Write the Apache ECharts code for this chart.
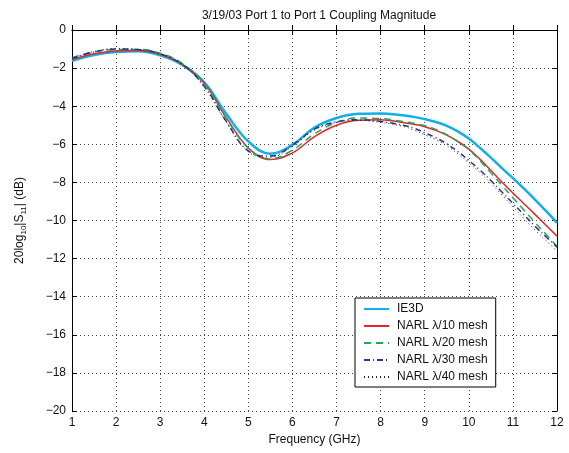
<!DOCTYPE html>
<html>
<head>
<meta charset="utf-8">
<script src="https://cdn.jsdelivr.net/npm/echarts@6/dist/echarts.min.js"></script>
<style>
  html, body { margin: 0; padding: 0; background: #fff; }
  #chart { width: 569px; height: 453px; }
</style>
</head>
<body>
<div id="chart"></div>
<script>
var freq = [1, 1.5, 2, 2.5, 3, 3.5, 4, 4.5, 5, 5.5, 6, 6.5, 7, 7.5, 8, 8.5, 8.75, 9, 9.25, 9.5, 9.75, 10, 10.25, 10.5, 10.75, 11, 11.25, 11.5, 11.75, 12];
var ie3d   = [-1.62, -1.31, -1.15, -1.12, -1.33, -1.83, -2.75, -4.4, -5.85, -6.49, -6.02, -5.12, -4.62, -4.4, -4.38,
              -4.48, -4.56, -4.68, -4.83, -5.03, -5.32, -5.7, -6.18, -6.7, -7.25, -7.78, -8.33, -8.9, -9.5, -10.12];
var narl10 = [-1.55, -1.25, -1.1, -1.08, -1.28, -1.8, -2.8, -4.6, -6.19, -6.8, -6.45, -5.6, -5.0, -4.74, -4.71,
              -4.85, -4.95, -5.08, -5.27, -5.52, -5.85, -6.25, -6.78, -7.38, -7.98, -8.56, -9.12, -9.68, -10.25, -10.82];
var narl20 = [-1.45, -1.15, -1.03, -1.02, -1.22, -1.75, -2.82, -4.65, -6.2, -6.77, -6.3, -5.45, -4.85, -4.62, -4.65,
              -4.8, -4.9, -5.02, -5.22, -5.5, -5.85, -6.28, -6.85, -7.5, -8.15, -8.8, -9.45, -10.1, -10.72, -11.35];
var narl30 = [-1.5, -1.15, -1.0, -1.03, -1.25, -1.8, -2.95, -4.8, -6.35, -6.62, -6.05, -5.2, -4.82, -4.71, -4.8,
              -5.0, -5.15, -5.4, -5.65, -5.98, -6.38, -6.85, -7.35, -7.9, -8.5, -9.1, -9.7, -10.3, -10.85, -11.4];
var narl40 = [-1.48, -1.13, -0.98, -1.02, -1.25, -1.82, -3.0, -4.85, -6.4, -6.68, -6.1, -5.25, -4.85, -4.75, -4.85,
              -5.05, -5.25, -5.5, -5.75, -6.08, -6.5, -6.97, -7.48, -8.05, -8.65, -9.28, -9.9, -10.5, -11.05, -11.6];
var seriesNames = ['IE3D', 'NARL \u03bb/10 mesh', 'NARL \u03bb/20 mesh', 'NARL \u03bb/30 mesh', 'NARL \u03bb/40 mesh'];

function pairs(ys) { return freq.map(function (x, i) { return [x, ys[i]]; }); }

var font = 'Liberation Sans, Arial, Helvetica, sans-serif';
var chart = echarts.init(document.getElementById('chart'), null, { renderer: 'canvas' });

function mkSeries(name, ys, color, width, type) {
  return {
    name: name, type: 'line', data: pairs(ys), smooth: 0.4,
    symbol: 'none', showSymbol: false,
    lineStyle: { color: color, width: width, type: type },
    itemStyle: { color: color },
    emphasis: { disabled: true }
  };
}

var option = {
  animation: false,
  backgroundColor: '#fff',
  textStyle: { fontFamily: font },
  title: {
    text: '3/19/03 Port 1 to Port 1 Coupling Magnitude',
    left: 314, top: 5, textAlign: 'center',
    textStyle: { fontSize: 12, fontWeight: 'normal', color: '#111', fontFamily: font }
  },
  grid: { left: 72, top: 30, width: 485, height: 381, containLabel: false },
  legend: {
    data: seriesNames,
    orient: 'vertical',
    left: 355, top: 298,
    itemWidth: 25, itemHeight: 14, itemGap: 5,
    padding: [5, 8, 4, 8],
    borderColor: '#000', borderWidth: 1, backgroundColor: '#fff',
    itemStyle: { opacity: 0 },
    textStyle: { fontSize: 12, color: '#111', fontFamily: font, padding: [0, 0, 0, 3] }
  },
  xAxis: [{
    type: 'value', min: 1, max: 12, interval: 1,
    name: 'Frequency (GHz)', nameLocation: 'middle', nameGap: 23,
    nameTextStyle: { fontSize: 12, color: '#111', fontFamily: font },
    axisLine: { show: true, lineStyle: { color: '#000', width: 1 } },
    axisTick: { show: true, inside: true, length: 5, lineStyle: { color: '#000' } },
    axisLabel: { fontSize: 12, color: '#111', margin: 6, fontFamily: font },
    splitLine: { show: true, lineStyle: { color: '#444', width: 1, type: [1, 3] } }
  }, {
    type: 'value', min: 1, max: 12, interval: 1, position: 'top',
    axisLine: { show: true, lineStyle: { color: '#000', width: 1 } },
    axisTick: { show: true, inside: true, length: 5, lineStyle: { color: '#000' } },
    axisLabel: { show: false }, splitLine: { show: false }
  }],
  yAxis: [{
    type: 'value', min: -20, max: 0, interval: 2,
    name: '{a|20log}{s|10}{a||S}{s|11}{a|| (dB)}',
    nameLocation: 'middle', nameGap: 46, nameRotate: 90,
    nameTextStyle: {
      fontSize: 12, color: '#111', fontFamily: font,
      rich: {
        a: { fontSize: 12, lineHeight: 12, verticalAlign: 'top', color: '#111', fontFamily: font },
        s: { fontSize: 8, lineHeight: 8, padding: [6, 0, 0, 0], verticalAlign: 'top', color: '#111', fontFamily: font }
      }
    },
    axisLine: { show: true, lineStyle: { color: '#000', width: 1 } },
    axisTick: { show: true, inside: true, length: 5, lineStyle: { color: '#000' } },
    axisLabel: {
      fontSize: 12, color: '#111', margin: 6, fontFamily: font,
      formatter: function (v) { return String(v).replace('-', '\u2212'); }
    },
    splitLine: { show: true, lineStyle: { color: '#444', width: 1, type: [1, 3] } }
  }, {
    type: 'value', min: -20, max: 0, interval: 2, position: 'right',
    axisLine: { show: true, lineStyle: { color: '#000', width: 1 } },
    axisTick: { show: true, inside: true, length: 5, lineStyle: { color: '#000' } },
    axisLabel: { show: false }, splitLine: { show: false }
  }],
  series: [
    mkSeries(seriesNames[0], ie3d, '#12aee8', 2.5, 'solid'),
    mkSeries(seriesNames[1], narl10, '#e42528', 1.5, 'solid'),
    mkSeries(seriesNames[2], narl20, '#1fa85a', 1.5, [7, 5]),
    mkSeries(seriesNames[3], narl30, '#2a3591', 1.5, [6, 3, 1, 3]),
    mkSeries(seriesNames[4], narl40, '#222222', 1, [1, 3])
  ]
};
chart.setOption(option);
</script>
</body>
</html>
